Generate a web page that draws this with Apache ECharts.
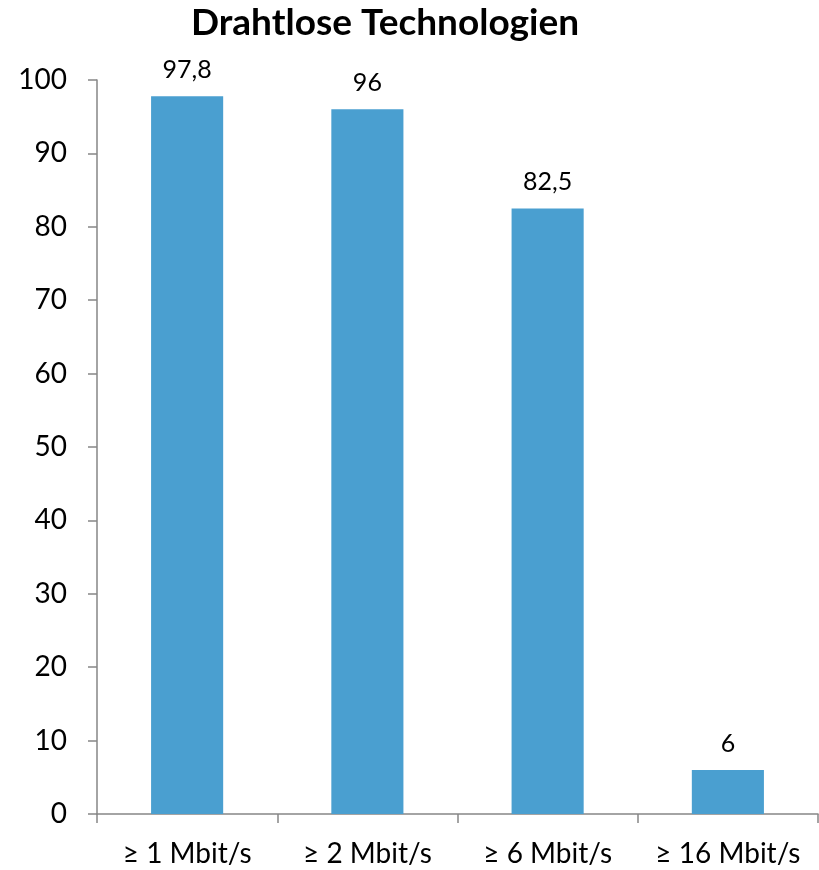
<!DOCTYPE html>
<html>
<head>
<meta charset="utf-8">
<script src="https://cdn.jsdelivr.net/npm/echarts@6/dist/echarts.min.js"></script>
<style>
  html, body { margin: 0; padding: 0; background: #fff; }
  #chart { width: 819px; height: 870px; }
</style>
</head>
<body>
<div id="chart"></div>
<script>
'use strict';

const titleText = 'Drahtlose Technologien';
const categories = ['≥ 1 Mbit/s', '≥ 2 Mbit/s', '≥ 6 Mbit/s', '≥ 16 Mbit/s'];
const values = [97.8, 96, 82.5, 6];

const FONT = 'Lato, "Open Sans", sans-serif';
const AXIS_COLOR = '#868686';

const chart = echarts.init(document.getElementById('chart'));
chart.setOption({
  animation: false,
  title: {
    text: titleText,
    left: 380,
    top: 0,
    textAlign: 'center',
    textStyle: { fontFamily: FONT, fontSize: 37, fontWeight: 'bold', color: '#000' }
  },
  grid: { left: 97, right: 1, top: 80, bottom: 56 },
  xAxis: {
    type: 'category',
    data: categories,
    axisLine: { lineStyle: { color: AXIS_COLOR, width: 1.5 } },
    axisTick: { show: true, interval: 0, length: 9, lineStyle: { color: AXIS_COLOR, width: 1.5 } },
    axisLabel: { interval: 0, hideOverlap: false, margin: 26, fontFamily: FONT, fontSize: 28, color: '#000' }
  },
  yAxis: {
    type: 'value',
    min: 0,
    max: 100,
    interval: 10,
    splitLine: { show: false },
    axisLine: { show: true, lineStyle: { color: AXIS_COLOR, width: 1.5 } },
    axisTick: { show: true, length: 9, lineStyle: { color: AXIS_COLOR, width: 1.5 } },
    axisLabel: { margin: 30, fontFamily: FONT, fontSize: 28, color: '#000' }
  },
  series: [{
    type: 'bar',
    data: values,
    barWidth: '40%',
    itemStyle: { color: '#4A9FD0' },
    label: {
      show: true,
      position: 'top',
      distance: 14,
      fontFamily: FONT,
      fontSize: 25,
      color: '#000',
      formatter: (p) => String(p.value).replace('.', ',')
    }
  }]
});
</script>
</body>
</html>
